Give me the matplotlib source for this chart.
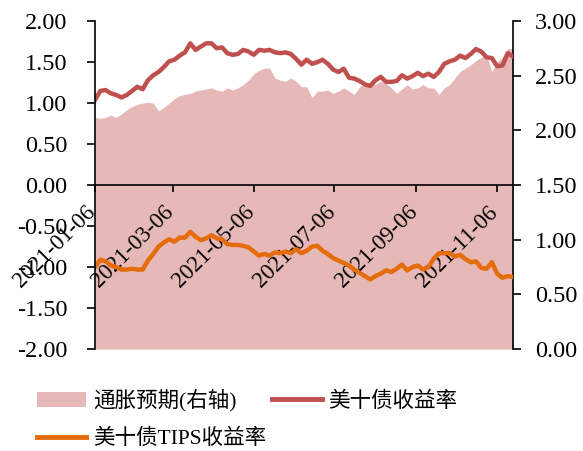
import matplotlib
matplotlib.use("Agg")
import matplotlib.pyplot as plt
import matplotlib.transforms as mtransforms
import numpy as np
import pandas as pd
from matplotlib.patches import Patch
from matplotlib.lines import Line2D

plt.rcParams["font.family"] = ["Liberation Serif", "Noto Sans CJK SC"]
plt.rcParams["axes.unicode_minus"] = False

# sampled every 4 calendar days from 2021-01-06
start = "2021-01-06"
n_pts = 80

# 通胀预期 (right axis)
infl = [2.12, 2.11, 2.12, 2.14, 2.12, 2.15, 2.19, 2.22, 2.24, 2.25,
        2.26, 2.25, 2.18, 2.21, 2.25, 2.29, 2.32, 2.33, 2.34, 2.36,
        2.37, 2.38, 2.39, 2.37, 2.36, 2.39, 2.37, 2.39, 2.42, 2.46,
        2.52, 2.55, 2.57, 2.57, 2.48, 2.46, 2.45, 2.48, 2.45, 2.40,
        2.40, 2.30, 2.36, 2.36, 2.37, 2.34, 2.36, 2.39, 2.36, 2.33,
        2.40, 2.43, 2.42, 2.42, 2.45, 2.43, 2.39, 2.34, 2.38, 2.42,
        2.38, 2.39, 2.42, 2.39, 2.39, 2.33, 2.39, 2.42, 2.48, 2.54,
        2.57, 2.60, 2.64, 2.67, 2.69, 2.54, 2.63, 2.67, 2.75, 2.75]

# 美十债收益率 (left axis)
ust10 = [1.04, 1.15, 1.16, 1.12, 1.10, 1.07, 1.10, 1.15, 1.20, 1.17,
         1.28, 1.34, 1.38, 1.44, 1.51, 1.53, 1.58, 1.62, 1.73, 1.65,
         1.69, 1.73, 1.73, 1.67, 1.68, 1.61, 1.59, 1.60, 1.65, 1.63,
         1.59, 1.65, 1.64, 1.65, 1.62, 1.61, 1.62, 1.60, 1.54, 1.47,
         1.53, 1.48, 1.50, 1.53, 1.48, 1.41, 1.38, 1.42, 1.31, 1.30,
         1.27, 1.23, 1.21, 1.28, 1.32, 1.26, 1.26, 1.27, 1.34, 1.30,
         1.33, 1.37, 1.33, 1.36, 1.32, 1.38, 1.48, 1.51, 1.53, 1.58,
         1.55, 1.60, 1.66, 1.63, 1.56, 1.55, 1.45, 1.46, 1.61, 1.57]

# 美十债TIPS收益率 (left axis)
tips = [-1.00, -0.91, -0.93, -0.98, -1.00, -1.03, -1.03, -1.02, -1.03, -1.03,
        -0.92, -0.84, -0.75, -0.70, -0.66, -0.69, -0.64, -0.64, -0.57, -0.63,
        -0.67, -0.65, -0.61, -0.65, -0.66, -0.72, -0.73, -0.73, -0.74, -0.76,
        -0.81, -0.86, -0.84, -0.86, -0.82, -0.83, -0.81, -0.83, -0.78, -0.83,
        -0.80, -0.75, -0.74, -0.80, -0.84, -0.89, -0.92, -0.95, -0.98, -1.03,
        -1.07, -1.11, -1.15, -1.11, -1.08, -1.04, -1.06, -1.02, -0.97, -1.04,
        -1.00, -0.98, -1.03, -1.00, -0.90, -0.83, -0.83, -0.83, -0.87, -0.85,
        -0.90, -0.94, -0.93, -1.01, -1.02, -0.94, -1.08, -1.13, -1.11, -1.12]

tick_dates = ["2021-01-06", "2021-03-06", "2021-05-06", "2021-07-06", "2021-09-06", "2021-11-06"]

dates = pd.date_range(start, periods=n_pts, freq="4D")

C_AREA = "#E6B9B8"
C_RED = "#C0504D"
C_ORANGE = "#E46C0A"
FS = 17.5

fig = plt.figure(figsize=(5.83, 4.51), dpi=100)
ax1 = fig.add_axes([0.163, 0.226, 0.717, 0.727])
ax2 = ax1.twinx()

ax2.fill_between(dates, 0, infl, color=C_AREA, lw=0)
ax1.plot(dates, ust10, color=C_RED, lw=3.2)
ax1.plot(dates, tips, color=C_ORANGE, lw=3.2)

ax1.set_zorder(ax2.get_zorder() + 1)
ax1.patch.set_visible(False)

ax1.set_xlim(dates[0], dates[-1])
ax1.set_ylim(-2, 2)
ax2.set_ylim(0, 3)
ax1.set_yticks(np.arange(-2, 2.01, 0.5))
ax2.set_yticks(np.arange(0, 3.01, 0.5))
ax1.yaxis.set_major_formatter(matplotlib.ticker.FormatStrFormatter("%.2f"))
ax2.yaxis.set_major_formatter(matplotlib.ticker.FormatStrFormatter("%.2f"))

for a in (ax1, ax2):
    a.spines["top"].set_visible(False)
ax1.spines["right"].set_visible(False)
ax2.spines["left"].set_visible(False)
ax2.spines["bottom"].set_visible(False)
ax1.spines["bottom"].set_position(("data", 0))
for s in ("left", "bottom"):
    ax1.spines[s].set_linewidth(1.2)
ax2.spines["right"].set_linewidth(1.2)

ax1.set_xticks(pd.to_datetime(tick_dates))
ax1.set_xticklabels(tick_dates, rotation=45, ha="right", va="top")
ax1.tick_params(axis="x", direction="out", length=5, width=1.2, labelsize=16.5, pad=7)
ax1.tick_params(axis="y", direction="out", length=6, width=1.2, labelsize=FS, pad=14)
ax2.tick_params(axis="y", direction="out", length=6, width=1.2, labelsize=FS, pad=10)
ax2.tick_params(axis="x", bottom=False, labelbottom=False)

shift = mtransforms.ScaledTranslation(5 / 100, 0, fig.dpi_scale_trans)
for lab in ax1.get_xticklabels():
    lab.set_transform(lab.get_transform() + shift)

handles = [Patch(facecolor=C_AREA, edgecolor="none"),
           Line2D([], [], color=C_ORANGE, lw=3.5),
           Line2D([], [], color=C_RED, lw=3.5)]
labels = ["通胀预期(右轴)", "美十债TIPS收益率", "美十债收益率"]
fig.legend(handles, labels, ncol=2, loc="upper left", bbox_to_anchor=(0.063, 0.137),
           frameon=False, fontsize=15.5, handlelength=2.3, handletextpad=0.3,
           columnspacing=0.3, labelspacing=0.8, borderaxespad=0, borderpad=0)

fig.savefig("out.png", dpi=100)
